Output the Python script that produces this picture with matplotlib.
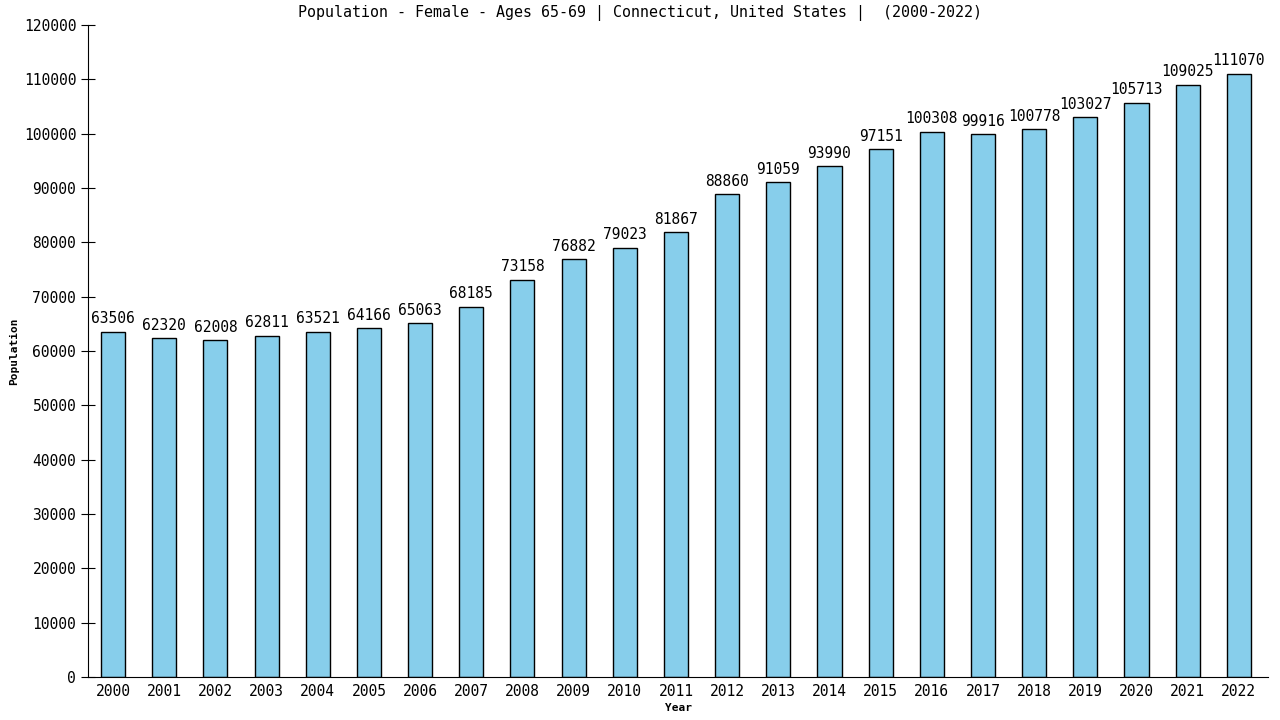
import matplotlib.pyplot as plt

years = list(range(2000, 2023))
population = [63506, 62320, 62008, 62811, 63521, 64166, 65063, 68185, 73158, 76882,
              79023, 81867, 88860, 91059, 93990, 97151, 100308, 99916, 100778, 103027,
              105713, 109025, 111070]
title = "Population - Female - Ages 65-69 | Connecticut, United States |  (2000-2022)"

plt.rcParams['font.family'] = 'DejaVu Sans Mono'

fig = plt.figure(figsize=(12.8, 7.2), dpi=100)
ax = fig.add_axes([0.06875, 0.0597, 0.9219, 0.9056])

x = list(range(len(years)))
ax.bar(x, population, width=0.47, color='#87ceeb', edgecolor='black', linewidth=1)

for xi, v in zip(x, population):
    ax.annotate(str(v), (xi, v), xytext=(0, 4), textcoords='offset points',
                ha='center', va='bottom', fontsize=10.5)

ax.set_xlim(-0.49, 22.57)
ax.set_ylim(0, 120000)
ax.set_yticks(range(0, 120001, 10000))
ax.set_xticks(x)
ax.set_xticklabels([str(y) for y in years])
ax.tick_params(axis='y', direction='inout', length=10, labelsize=10.5)
ax.tick_params(axis='x', length=0, labelsize=10.5, pad=5)

for s in ['top', 'right']:
    ax.spines[s].set_visible(False)

fig.suptitle(title, x=0.5, y=0.9815, va='center', fontsize=10.8)
ax.set_xlabel("Year", fontsize=8, fontweight='bold', labelpad=3)
ax.set_ylabel("Population", fontsize=8, fontweight='bold', labelpad=3)

plt.savefig("out.png", dpi=100)
